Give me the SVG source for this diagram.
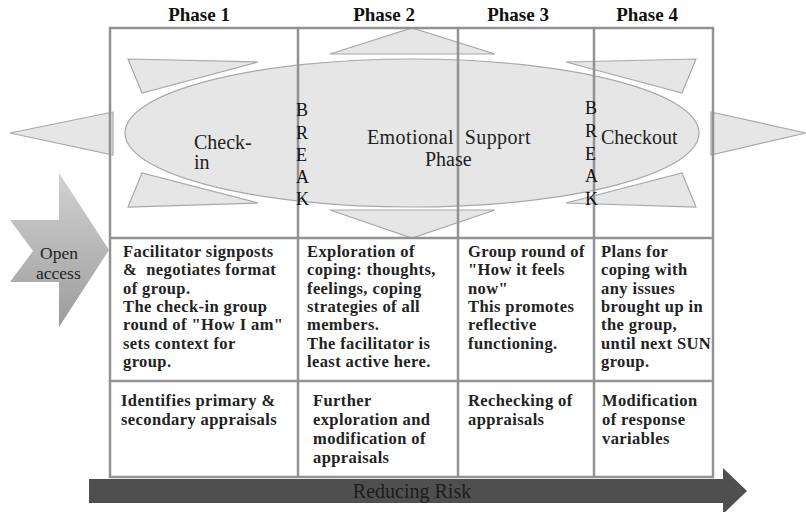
<svg xmlns="http://www.w3.org/2000/svg" width="806" height="512" viewBox="0 0 806 512">
  <style>
    .phase { font-family: "Liberation Serif", serif; font-weight: bold; font-size: 19px; fill: #111; text-anchor: middle; }
    .shape { fill: #e6e6e6; stroke: #a8a8a8; stroke-width: 1.2; }
    .grid { fill: none; stroke: #929292; stroke-width: 2.5; }
    .big { font-family: "Liberation Serif", serif; font-size: 20px; fill: #222; }
    .brk { font-family: "Liberation Serif", serif; font-size: 18px; fill: #111; }
    .open { font-family: "Liberation Serif", serif; font-size: 17.5px; fill: #222; }
    .cell { font-family: "Liberation Serif", serif; font-weight: bold; font-size: 16.5px; letter-spacing: 0.4px; fill: #222; }
    .risk { font-family: "Liberation Serif", serif; font-size: 20px; fill: #1c1c1c; text-anchor: middle; }
  </style>
  <defs>
    <linearGradient id="openFill" x1="0" y1="0" x2="0" y2="1">
      <stop offset="0" stop-color="#d2d2d2"/>
      <stop offset="1" stop-color="#9c9c9c"/>
    </linearGradient>
  </defs>

  <rect width="806" height="512" fill="#ffffff"/>

  <!-- phase headings -->
  <g id="headings">
    <text class="phase" x="199" y="21">Phase 1</text>
    <text class="phase" x="384" y="21">Phase 2</text>
    <text class="phase" x="518" y="21">Phase 3</text>
    <text class="phase" x="647" y="21">Phase 4</text>
  </g>

  <!-- radiating pointers around the central phase -->
  <g id="pointers">
    <polygon class="shape" points="128,59 258,62 142,93"/>
    <polygon class="shape" points="142,173 128,207 258,203"/>
    <polygon class="shape" points="113,112 10,133 113,155"/>
    <polygon class="shape" points="330,54 412,28 495,54"/>
    <polygon class="shape" points="330,210 495,210 412,238"/>
    <polygon class="shape" points="566,62 696,59 682,93"/>
    <polygon class="shape" points="566,203 696,207 682,173"/>
    <polygon class="shape" points="711,112 806,133 711,155"/>
  </g>

  <!-- central emotional support phase -->
  <g id="support-phase">
    <ellipse class="shape" cx="412" cy="133" rx="287" ry="74"/>
  </g>

  <!-- table grid -->
  <g id="grid">
    <rect class="grid" x="110" y="28" width="603" height="449"/>
    <line class="grid" x1="298" y1="28" x2="298" y2="477"/>
    <line class="grid" x1="458" y1="28" x2="458" y2="477"/>
    <line class="grid" x1="594" y1="28" x2="594" y2="477"/>
    <line class="grid" x1="110" y1="238" x2="713" y2="238"/>
    <line class="grid" x1="110" y1="381" x2="713" y2="381"/>
  </g>

  <!-- labels inside the central phase -->
  <g id="check-in">
    <text class="big" x="194" y="149">Check-</text>
    <text class="big" x="194" y="169">in</text>
  </g>
  <g id="emotional-support">
    <text class="big" x="367" y="144" xml:space="preserve" letter-spacing="0.4">Emotional  Support</text>
    <text class="big" x="425" y="166">Phase</text>
  </g>
  <g id="checkout">
    <text class="big" x="601" y="144">Checkout</text>
  </g>

  <!-- breaks between phases -->
  <g id="break-1">
    <text class="brk" x="296" y="116">B</text>
    <text class="brk" x="296" y="139">R</text>
    <text class="brk" x="296" y="161">E</text>
    <text class="brk" x="296" y="183">A</text>
    <text class="brk" x="296" y="205">K</text>
  </g>
  <g id="break-2">
    <text class="brk" x="585" y="114">B</text>
    <text class="brk" x="585" y="137">R</text>
    <text class="brk" x="585" y="160">E</text>
    <text class="brk" x="585" y="182">A</text>
    <text class="brk" x="585" y="205">K</text>
  </g>

  <!-- open access entry arrow -->
  <g id="open-access">
    <polygon points="10,220 59,220 59,173 109,250 59,327 59,282 10,282 33,251" fill="url(#openFill)"/>
    <text class="open" x="40" y="259">Open</text>
    <text class="open" x="36" y="279">access</text>
  </g>

  <!-- process row -->
  <g id="process-1">
    <text class="cell" x="123" y="257" xml:space="preserve"><tspan x="123">Facilitator signposts</tspan><tspan x="123" dy="18.3">&amp;  negotiates format</tspan><tspan x="123" dy="18.3">of group.</tspan><tspan x="123" dy="18.3">The check-in group</tspan><tspan x="123" dy="18.3">round of "How I am"</tspan><tspan x="123" dy="18.3">sets context for</tspan><tspan x="123" dy="18.3">group.</tspan></text>
  </g>
  <g id="process-2">
    <text class="cell" x="307" y="257"><tspan x="307">Exploration of</tspan><tspan x="307" dy="18.3">coping: thoughts,</tspan><tspan x="307" dy="18.3">feelings, coping</tspan><tspan x="307" dy="18.3">strategies of all</tspan><tspan x="307" dy="18.3">members.</tspan><tspan x="307" dy="18.3">The facilitator is</tspan><tspan x="307" dy="18.3">least active here.</tspan></text>
  </g>
  <g id="process-3">
    <text class="cell" x="468" y="257"><tspan x="468">Group round of</tspan><tspan x="468" dy="18.3">"How it feels</tspan><tspan x="468" dy="18.3">now"</tspan><tspan x="468" dy="18.3">This promotes</tspan><tspan x="468" dy="18.3">reflective</tspan><tspan x="468" dy="18.3">functioning.</tspan></text>
  </g>
  <g id="process-4">
    <text class="cell" x="601" y="257"><tspan x="601">Plans for</tspan><tspan x="601" dy="18.3">coping with</tspan><tspan x="601" dy="18.3">any issues</tspan><tspan x="601" dy="18.3">brought up in</tspan><tspan x="601" dy="18.3">the group,</tspan><tspan x="601" dy="18.3">until next SUN</tspan><tspan x="601" dy="18.3">group.</tspan></text>
  </g>

  <!-- appraisal row -->
  <g id="appraisal-1">
    <text class="cell" x="121" y="406"><tspan x="121">Identifies primary &amp;</tspan><tspan x="121" dy="19">secondary appraisals</tspan></text>
  </g>
  <g id="appraisal-2">
    <text class="cell" x="313" y="406"><tspan x="313">Further</tspan><tspan x="313" dy="19">exploration and</tspan><tspan x="313" dy="19">modification of</tspan><tspan x="313" dy="19">appraisals</tspan></text>
  </g>
  <g id="appraisal-3">
    <text class="cell" x="468" y="406"><tspan x="468">Rechecking of</tspan><tspan x="468" dy="19">appraisals</tspan></text>
  </g>
  <g id="appraisal-4">
    <text class="cell" x="602" y="406"><tspan x="602">Modification</tspan><tspan x="602" dy="19">of response</tspan><tspan x="602" dy="19">variables</tspan></text>
  </g>

  <!-- reducing risk arrow -->
  <g id="reducing-risk">
    <polygon points="89,479 723,479 723,468 747,491 723,514 723,503 89,503" fill="#4f4f4f"/>
    <text class="risk" x="412" y="498">Reducing Risk</text>
  </g>
</svg>
